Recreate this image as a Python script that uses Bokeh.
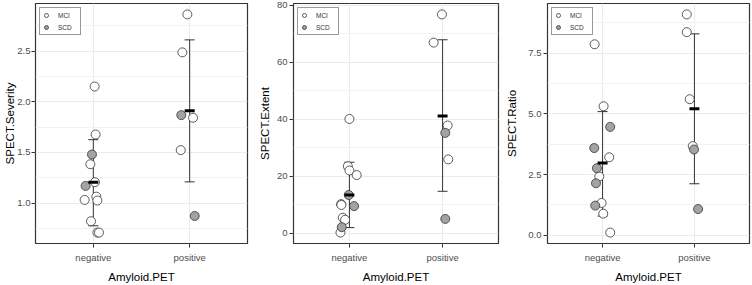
from bokeh.plotting import figure
from bokeh.layouts import row
from bokeh.models import (ColumnDataSource, Range1d, FixedTicker, Whisker, TeeHead,
                          Legend, LegendItem)
from bokeh.embed import file_html
from bokeh.resources import INLINE

# ---------------- data ----------------
amyloid = ["negative", "positive"]
groups = ["MCI", "SCD"]

# SPECT.Severity
sev_value = [2.15, 1.677, 1.384, 1.207, 1.064, 1.026, 1.032, 0.822, 0.71, 0.71, 1.48, 1.17,
             2.861, 2.487, 1.842, 1.523, 1.868, 0.874]
sev_group = ["MCI"] * 10 + ["SCD"] * 2 + ["MCI"] * 4 + ["SCD"] * 2
sev_pet = ["negative"] * 12 + ["positive"] * 6
sev_jitter = [0.014, 0.024, -0.031, 0.017, 0.031, 0.042, -0.090, -0.024, 0.042, 0.059, -0.014, -0.080,
              -0.024, -0.076, 0.035, -0.093, -0.087, 0.052]
sev_mean = [1.206, 1.91]
sev_lower = [0.777, 1.21]
sev_upper = [1.626, 2.61]
sev_ticks = [1.0, 1.5, 2.0, 2.5]
sev_minor = [0.75, 1.25, 1.75, 2.25, 2.75]
sev_labels = ["1.0", "1.5", "2.0", "2.5"]

# SPECT.Extent
ext_value = [40.1, 23.5, 22.0, 20.4, 10.2, 9.9, 5.4, 4.7, 0.2, 13.4, 9.5, 2.1,
             76.8, 66.9, 37.8, 25.9, 35.2, 5.0]
ext_group = ["MCI"] * 9 + ["SCD"] * 3 + ["MCI"] * 4 + ["SCD"] * 2
ext_pet = ["negative"] * 12 + ["positive"] * 6
ext_jitter = [0.0, -0.017, 0.0, 0.078, -0.089, -0.086, -0.071, -0.046, -0.096, -0.007, 0.05, -0.082,
              -0.007, -0.096, 0.054, 0.061, 0.029, 0.029]
ext_mean = [13.4, 41.1]
ext_lower = [1.95, 14.7]
ext_upper = [24.9, 67.9]
ext_ticks = [0, 20, 40, 60, 80]
ext_minor = [10, 30, 50, 70]
ext_labels = ["0", "20", "40", "60", "80"]

# SPECT.Ratio
rat_value = [7.86, 5.31, 3.21, 2.42, 1.33, 0.89, 0.11, 4.46, 3.59, 2.76, 2.14, 1.22,
             9.09, 8.36, 5.60, 3.67, 3.53, 1.08]
rat_group = ["MCI"] * 7 + ["SCD"] * 5 + ["MCI"] * 4 + ["SCD"] * 2
rat_pet = ["negative"] * 12 + ["positive"] * 6
rat_jitter = [-0.087, 0.011, 0.072, -0.036, -0.011, 0.007, 0.083, 0.083, -0.091, -0.062, -0.072, -0.080,
              -0.083, -0.083, -0.051, -0.018, -0.004, 0.040]
rat_mean = [2.97, 5.21]
rat_lower = [0.79, 2.12]
rat_upper = [5.09, 8.29]
rat_ticks = [0.0, 2.5, 5.0, 7.5]
rat_minor = [1.25, 3.75, 6.25, 8.75]
rat_labels = ["0.0", "2.5", "5.0", "7.5"]

FILL = {"MCI": "white", "SCD": "#a3a3a3"}
FONT = "Liberation Sans"


def make_panel(title, value, group, pet, jitter, mean, lower, upper,
               ticks, minor, labels, width, left, right, label_standoff, title_standoff):
    lo, hi = min(value), max(value)
    pad = (hi - lo) * 0.05
    p = figure(width=width, height=285, output_backend="svg", toolbar_location=None,
               x_range=Range1d(0.4, 2.6), y_range=Range1d(lo - pad, hi + pad),
               min_border_left=left, min_border_right=right, min_border_top=3,
               min_border_bottom=39)
    p.background_fill_color = "white"
    p.outline_line_color = "#333333"
    p.outline_line_width = 1.2

    cat_pos = {c: i + 1 for i, c in enumerate(amyloid)}

    items = []
    for g in groups:
        xs = [cat_pos[c] + j for c, j, gg in zip(pet, jitter, group) if gg == g]
        ys = [v for v, gg in zip(value, group) if gg == g]
        r = p.scatter(xs, ys, size=9, fill_color=FILL[g], line_color="#333333", line_width=0.8)
        items.append(LegendItem(label=g, renderers=[r]))

    xc = [cat_pos[c] for c in amyloid]
    src = ColumnDataSource(dict(x=xc, mean=mean, lower=lower, upper=upper))
    w = Whisker(source=src, base="x", lower="lower", upper="upper", dimension="height",
                line_color="#333333", line_width=1,
                upper_head=TeeHead(size=10, line_color="#333333", line_width=1),
                lower_head=TeeHead(size=10, line_color="#333333", line_width=1))
    p.add_layout(w)
    p.scatter("x", "mean", source=src, marker="dash", size=10, line_width=3, line_color="black")

    # axes
    p.xaxis.ticker = FixedTicker(ticks=xc)
    p.xaxis.major_label_overrides = {cat_pos[c]: c for c in amyloid}
    p.yaxis.ticker = FixedTicker(ticks=ticks, minor_ticks=minor)
    p.yaxis.major_label_overrides = {t: l for t, l in zip(ticks, labels)}
    for ax in (p.xaxis, p.yaxis):
        ax.axis_line_color = None
        ax.major_tick_line_color = "#333333"
        ax.major_tick_out = 4
        ax.major_tick_in = 0
        ax.minor_tick_line_color = None
        ax.major_label_text_font = FONT
        ax.major_label_text_font_size = "9.5px"
        ax.major_label_text_color = "#4d4d4d"
        ax.major_label_text_line_height = 1.0
        ax.axis_label_text_font = FONT
        ax.axis_label_text_font_size = "11.5px"
        ax.axis_label_text_font_style = "normal"
        ax.axis_label_text_color = "black"
        ax.axis_label_text_line_height = 1.0
    p.xaxis.axis_label = "Amyloid.PET"
    p.yaxis.axis_label = title
    p.xaxis.major_label_standoff = 4
    p.xaxis.axis_label_standoff = 5
    p.yaxis.major_label_standoff = label_standoff
    p.yaxis.axis_label_standoff = title_standoff

    p.xgrid.grid_line_color = "#ebebeb"
    p.xgrid.minor_grid_line_color = None
    p.ygrid.grid_line_color = "#ebebeb"
    p.ygrid.minor_grid_line_color = "#f2f2f2"

    leg = Legend(items=items, location="top_left")
    leg.margin = 4
    leg.padding = 1
    leg.spacing = 0
    leg.glyph_width = 10
    leg.glyph_height = 12
    leg.label_height = 12
    leg.label_width = 21
    leg.label_standoff = 7
    leg.label_text_font = FONT
    leg.label_text_font_size = "6.5px"
    leg.label_text_color = "#333333"
    leg.border_line_color = "#333333"
    leg.border_line_width = 1
    leg.background_fill_alpha = 1
    p.add_layout(leg)
    return p


p1 = make_panel("SPECT.Severity", sev_value, sev_group, sev_pet, sev_jitter,
                sev_mean, sev_lower, sev_upper, sev_ticks, sev_minor, sev_labels, 250, 35, 3, 1, -2)
p2 = make_panel("SPECT.Extent", ext_value, ext_group, ext_pet, ext_jitter,
                ext_mean, ext_lower, ext_upper, ext_ticks, ext_minor, ext_labels, 250, 43, 2, 2, 3)
p3 = make_panel("SPECT.Ratio", rat_value, rat_group, rat_pet, rat_jitter,
                rat_mean, rat_lower, rat_upper, rat_ticks, rat_minor, rat_labels, 252, 47, 3, 2, 7)

layout = row(p1, p2, p3)
open("out.html", "w").write(file_html(layout, INLINE))
